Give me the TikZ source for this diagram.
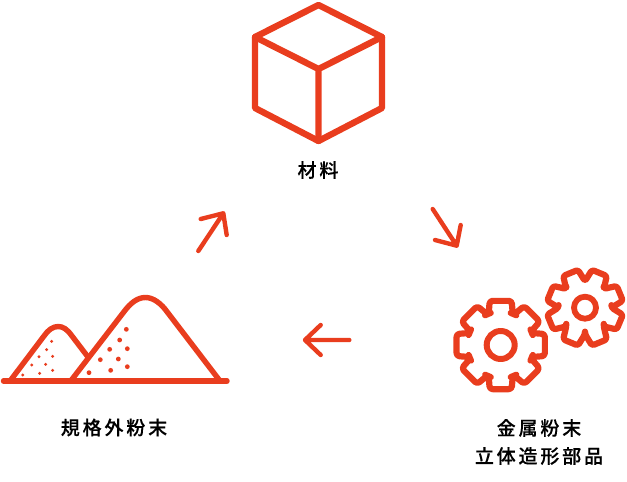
\documentclass[tikz,border=0pt]{standalone}
\usepackage{fontspec}
\newfontfamily\labfont{Noto Sans CJK JP Medium}[LetterSpace=15,FakeBold=0.3]
\definecolor{ic}{HTML}{E93D1E}
\tikzset{
  x=1pt,y=-1pt,
  icon/.style={draw=ic,line width=6.4pt,line join=round,line cap=round},
  ridge/.style={draw=ic,line width=5.4pt,line join=round,line cap=round},
  arrowline/.style={draw=ic,line width=4.4pt,line join=round,line cap=round},
  grain/.style={fill=ic,draw=none},
  lab/.style={font=\fontsize{19}{28}\labfont,align=center,text=black,inner sep=0pt},
}
\newcommand{\gearat}[8]{% cx cy start tipR rootR tipHalf baseHalf corner
  \begin{scope}[shift={(#1,#2)}]
  \draw[ridge,line width=6.2pt,rounded corners=#8pt]
    (#3-22.5:#5)
    \foreach \k in {0,...,7}{
      -- (#3+\k*45-#7:#5) -- (#3+\k*45-#6:#4) -- (#3+\k*45+#6:#4) -- (#3+\k*45+#7:#5) -- (#3+\k*45+22.5:#5)
    } -- cycle;
  \end{scope}
}
\begin{document}
\begin{tikzpicture}
\useasboundingbox (0,0) rectangle (627,482);
% cube
\coordinate (ct) at (318.5,5);\coordinate (cl) at (255,37);\coordinate (cr) at (382,37);
\coordinate (cc) at (318.5,69);\coordinate (cb) at (318.5,141);\coordinate (dl) at (255,108);\coordinate (dr) at (382,108);
\draw[icon] (ct)--(cr)--(dr)--(cb)--(dl)--(cl)--cycle;
\draw[icon] (cl)--(cc)--(cr) (cc)--(cb);
\node[lab] (t1) at (318,170) {材料};
% arrows
\coordinate (a1s) at (198.3,251);\coordinate (a1e) at (223.3,213.3);\coordinate (a1p) at (200.7,219);\coordinate (a1q) at (226.7,235);
\draw[arrowline] (a1s)--(a1e) (a1p)--(a1e)--(a1q);
\coordinate (a2s) at (432.7,209);\coordinate (a2e) at (456.7,245.7);\coordinate (a2p) at (435,240);\coordinate (a2q) at (460.7,225);
\draw[arrowline] (a2s)--(a2e) (a2p)--(a2e)--(a2q);
\coordinate (a3s) at (349.3,340);\coordinate (a3e) at (305,340);\coordinate (a3p) at (320.7,325);\coordinate (a3q) at (320.7,355);
\draw[arrowline] (a3s)--(a3e) (a3p)--(a3e)--(a3q);
% gears
\gearat{500.7}{345}{-90}{45.5}{33.5}{14}{21}{3}
\draw[ridge,line width=6pt] (500.7,345) circle[radius=14];
\gearat{585}{307.7}{-67.5}{38.5}{26.5}{12}{22.5}{2.5}
\draw[ridge,line width=5.8pt] (585,307.7) circle[radius=11];
\node[lab] (t2) at (539,442) {金属粉末\\立体造形部品};
% heaps
\coordinate (b0) at (3.5,381);\coordinate (b1) at (227,381);
\draw[ridge] (b0)--(b1);
\draw[ridge] (70.7,381) -- (123,313) .. controls (131,302) and (138,297.5) .. (145.5,297.5) .. controls (153,297.5) and (161,303) .. (168,313) -- (220,381);
\draw[ridge] (10,381) -- (44,336) .. controls (48,330) and (53,326.5) .. (58,326.5) .. controls (63,326.5) and (67,329) .. (72,336) -- (88,357);
\foreach \x/\y in {379/148,359/180,329/208,382/206,301/239,355/237,267/278,332/271,382/260}
  \fill[grain] (\x/3,280+\y/3) circle[radius=2.4];
\foreach \x/\y in {155/184,140/209,117/230,158/229,95/255,137/253,68/285,119/280,158/271}
  \fill[grain] (\x/3,280+\y/3) circle[radius=1.6];
\node[lab] (t3) at (114,427.5) {規格外粉末};
\end{tikzpicture}
\end{document}
